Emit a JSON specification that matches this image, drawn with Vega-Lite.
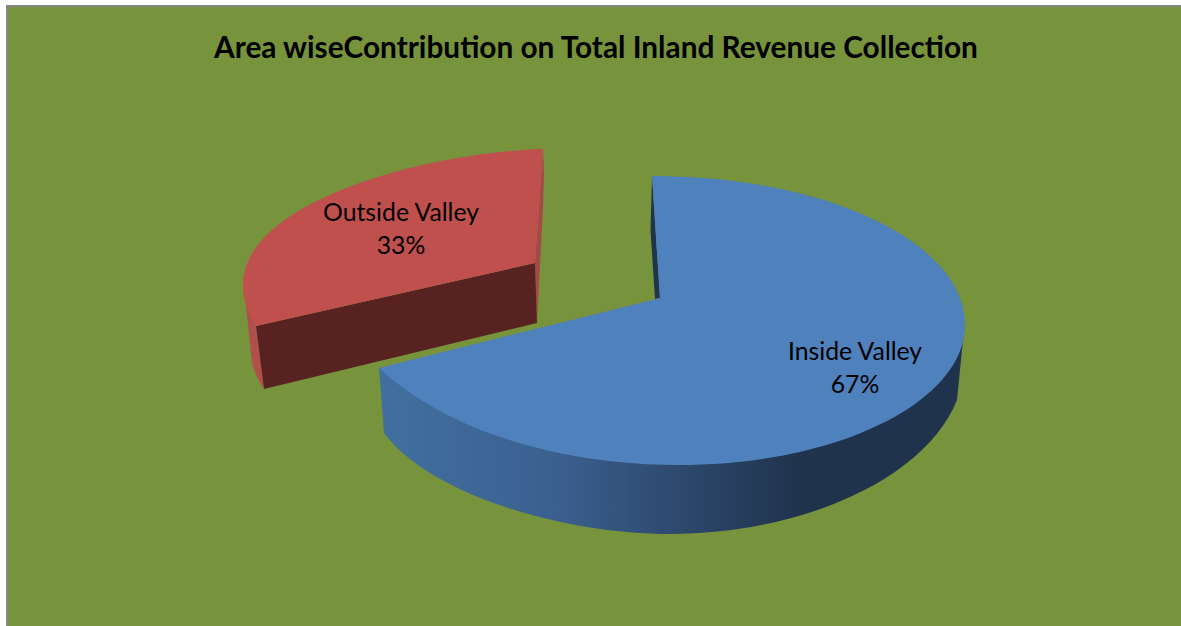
{"$schema":"https://vega.github.io/schema/vega-lite/v6.json","autosize":{"type":"none"},"padding":{"left":7,"top":6,"right":0,"bottom":0},"width":1176,"height":622,"background":"#ffffff","view":{"fill":"#77933C","stroke":"#868686","strokeWidth":2},"title":{"text":"Area wiseContribution on Total Inland Revenue Collection","font":"Lato","fontSize":29.8,"fontWeight":"bold","color":"#000000","anchor":"middle","baseline":"alphabetic","offset":-52,"dy":30,"dx":1},"data":{"values":[{"slice":"Inside Valley","share":0.67},{"slice":"Outside Valley","share":0.33}]},"resolve":{"scale":{"shape":"independent"}},"layer":[{"transform":[{"filter":"datum.slice==='Inside Valley'"}],"mark":{"type":"point","filled":true,"size":4,"opacity":1,"strokeWidth":0,"color":{"gradient":"linear","x1":0,"x2":1,"y1":0,"y2":0,"stops":[{"offset":0,"color":"#41709f"},{"offset":0.3,"color":"#3b6090"},{"offset":0.55,"color":"#2b4467"},{"offset":0.72,"color":"#1f334c"},{"offset":1,"color":"#1f334c"}]}},"encoding":{"shape":{"field":"slice","legend":null,"scale":{"domain":["Inside Valley"],"range":["M-216 51 L-211 116 C-167 176 -35 217 75 217 C205 217 330 163 362 83 L368 23 L370 8 Z"]}}}},{"transform":[{"filter":"datum.slice==='Inside Valley'"}],"mark":{"type":"point","filled":true,"size":4,"opacity":1,"strokeWidth":0,"color":"#1F344D"},"encoding":{"shape":{"field":"slice","legend":null,"scale":{"domain":["Inside Valley"],"range":["M57 -141 L55.5 -87 L60 -18 L65 -19 Z"]}}}},{"transform":[{"filter":"datum.slice==='Inside Valley'"}],"mark":{"type":"point","filled":true,"size":4,"opacity":1,"strokeWidth":0,"color":"#4F81BD"},"encoding":{"shape":{"field":"slice","legend":null,"scale":{"domain":["Inside Valley"],"range":["M57 -141 C233 -141 370 -74 370 8 C370 85 242 148 85 148 C0 149 -133 128 -216 51 L61 -18 L65 -19 Z"]}}}},{"transform":[{"filter":"datum.slice==='Outside Valley'"}],"mark":{"type":"point","filled":true,"size":4,"opacity":1,"strokeWidth":0,"color":"#A54A47"},"encoding":{"shape":{"field":"slice","legend":null,"scale":{"domain":["Outside Valley"],"range":["M-52 -168 L-51 -142 L-52 -110 L-58 6 L-60 -54 Z"]}}}},{"transform":[{"filter":"datum.slice==='Outside Valley'"}],"mark":{"type":"point","filled":true,"size":4,"opacity":1,"strokeWidth":0,"color":"#B04F4C"},"encoding":{"shape":{"field":"slice","legend":null,"scale":{"domain":["Outside Valley"],"range":["M-352 -32 L-349 -12 L-343 46 Q-339 61 -331 72 L-339 9 Z"]}}}},{"transform":[{"filter":"datum.slice==='Outside Valley'"}],"mark":{"type":"point","filled":true,"size":4,"opacity":1,"strokeWidth":0,"color":"#582220"},"encoding":{"shape":{"field":"slice","legend":null,"scale":{"domain":["Outside Valley"],"range":["M-339 9 L-60 -54 L-58 6 L-331 72 Z"]}}}},{"transform":[{"filter":"datum.slice==='Outside Valley'"}],"mark":{"type":"point","filled":true,"size":4,"opacity":1,"strokeWidth":0,"color":"#C0504D"},"encoding":{"shape":{"field":"slice","legend":null,"scale":{"domain":["Outside Valley"],"range":["M-60 -54 L-52 -168 C-165 -165 -352 -117 -352 -32 C-352 -17 -347 -3 -339 9 Z"]}}}},{"transform":[{"filter":"datum.slice==='Inside Valley'"}],"mark":{"type":"text","font":"Lato","fontSize":24.8,"color":"#000000","align":"center","baseline":"alphabetic","dx":260,"dy":43},"encoding":{"text":{"field":"slice"}}},{"transform":[{"filter":"datum.slice==='Inside Valley'"}],"mark":{"type":"text","font":"Lato","fontSize":24.8,"color":"#000000","align":"center","baseline":"alphabetic","dx":260,"dy":76},"encoding":{"text":{"field":"share","format":".0%"}}},{"transform":[{"filter":"datum.slice==='Outside Valley'"}],"mark":{"type":"text","font":"Lato","fontSize":24.8,"color":"#000000","align":"center","baseline":"alphabetic","dx":-194,"dy":-96},"encoding":{"text":{"field":"slice"}}},{"transform":[{"filter":"datum.slice==='Outside Valley'"}],"mark":{"type":"text","font":"Lato","fontSize":24.8,"color":"#000000","align":"center","baseline":"alphabetic","dx":-194,"dy":-63},"encoding":{"text":{"field":"share","format":".0%"}}}]}
